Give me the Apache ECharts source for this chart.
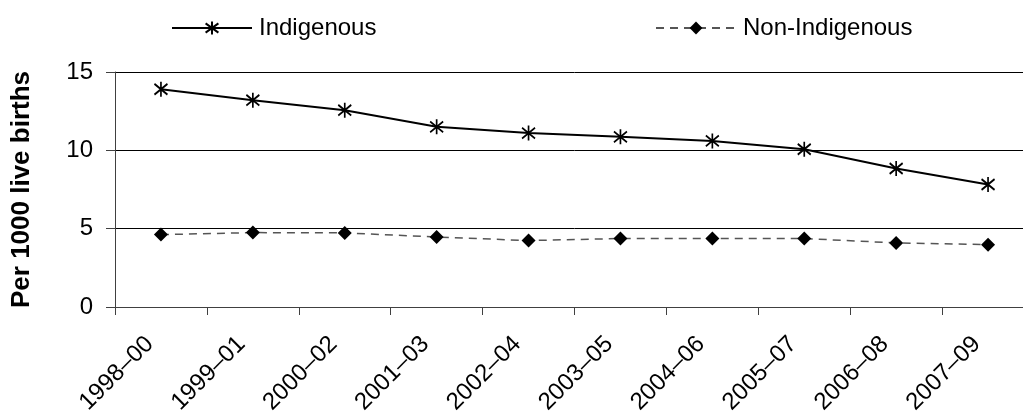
<!DOCTYPE html>
<html>
<head>
<meta charset="utf-8">
<script src="https://cdn.jsdelivr.net/npm/echarts@6/dist/echarts.min.js"></script>
<style>html,body{margin:0;padding:0;background:#fff;overflow:hidden;width:1023px;height:417px;}#c{width:1035px;height:417px;}</style>
</head>
<body>
<div id="c"></div>
<script>
const categories = ['1998–00','1999–01','2000–02','2001–03','2002–04','2003–05','2004–06','2005–07','2006–08','2007–09'];
const indigenous = [13.9, 13.2, 12.56, 11.5, 11.1, 10.86, 10.6, 10.07, 8.84, 7.82];
const nonIndigenous = [4.62, 4.75, 4.73, 4.47, 4.24, 4.37, 4.37, 4.37, 4.09, 3.98];
const yTicks = [0, 5, 10, 15];

const FONT = 'Liberation Sans, Arial, sans-serif';
const asterisk = 'path://M6,0 L6,14 M0,2 L12,12 M0,12 L12,2';

const legendBase = {
  top: 11,
  itemWidth: 80,
  itemHeight: 16,
  textStyle: {fontFamily: FONT, fontSize: 24, color: '#000', padding: [0,0,0,2]}
};

const chart = echarts.init(document.getElementById('c'), null, {renderer: 'canvas'});
chart.setOption({
  animation: false,
  backgroundColor: '#fff',
  textStyle: {fontFamily: FONT},
  legend: [
    Object.assign({}, legendBase, {left: 166, data: [{name: 'Indigenous'}]}),
    Object.assign({}, legendBase, {left: 650, data: [{name: 'Non-Indigenous'}]})
  ],
  grid: {left: 115, top: 72, bottom: 110, right: 1, containLabel: false},
  xAxis: {
    type: 'category',
    data: categories,
    boundaryGap: true,
    axisLine: {lineStyle: {color: '#404040', width: 1}},
    axisTick: {show: true, length: 8, lineStyle: {color: '#404040'}},
    axisLabel: {rotate: 45, fontFamily: FONT, fontSize: 24, color: '#000', margin: 22, interval: 0, padding: [0, 16, 0, 0]}
  },
  yAxis: {
    type: 'value',
    min: yTicks[0],
    max: yTicks[yTicks.length - 1],
    interval: 5,
    name: 'Per 1000 live births',
    nameLocation: 'middle',
    nameGap: 80,
    nameTextStyle: {fontFamily: FONT, fontSize: 26, fontWeight: 'bold', color: '#000'},
    axisLine: {show: true, lineStyle: {color: '#404040', width: 1}},
    axisTick: {show: true, length: 9, lineStyle: {color: '#404040'}},
    axisLabel: {fontFamily: FONT, fontSize: 24, color: '#000', margin: 22},
    splitLine: {show: true, lineStyle: {color: '#000', width: 1}}
  },
  series: [
    {
      name: 'Indigenous',
      type: 'line',
      data: indigenous,
      symbol: asterisk,
      symbolSize: [13, 15],
      showSymbol: true,
      lineStyle: {color: '#000', width: 2},
      itemStyle: {color: '#000', borderColor: '#000', borderWidth: 1.8}
    },
    {
      name: 'Non-Indigenous',
      type: 'line',
      data: nonIndigenous,
      symbol: 'diamond',
      symbolSize: 14,
      lineStyle: {color: '#555', width: 1.5, type: [8, 6]},
      itemStyle: {color: '#000', borderWidth: 0}
    }
  ]
});
</script>
</body>
</html>
